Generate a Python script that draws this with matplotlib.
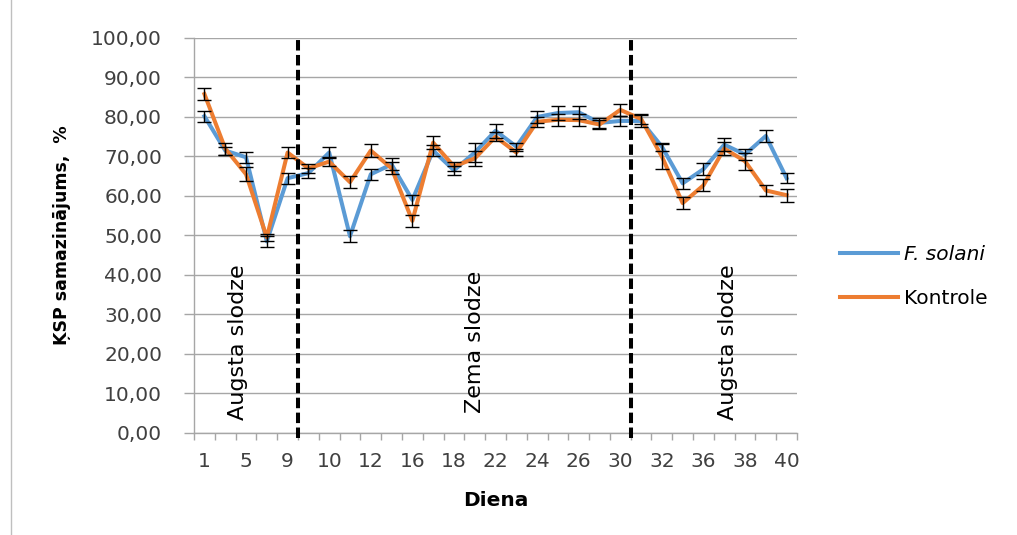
import numpy as np
import matplotlib
matplotlib.use("Agg")
import matplotlib.pyplot as plt
from matplotlib.lines import Line2D

plt.rcParams["font.family"] = "DejaVu Sans"

# data
days = ["1", "3", "5", "7", "9", "9", "10", "11", "12", "14", "16", "17", "18", "20", "22",
        "23", "24", "25", "26", "28", "30", "31", "32", "34", "36", "37", "38", "39", "40"]
solani = [80.2, 71.5, 69.8, 48.5, 64.5, 65.8, 71.0, 49.8, 65.5, 68.0, 59.0, 71.5, 66.5, 71.0, 76.5,
          72.5, 80.0, 81.0, 81.2, 78.5, 79.0, 79.0, 72.5, 63.2, 66.8, 73.0, 70.5, 75.2, 64.5]
solani_err = [1.4, 1.0, 1.4, 1.3, 1.4, 1.2, 1.5, 1.5, 1.4, 1.5, 1.2, 1.4, 1.2, 2.5, 1.8,
              1.0, 1.5, 1.7, 1.6, 1.2, 1.2, 1.5, 1.0, 1.4, 1.6, 1.6, 1.3, 1.5, 1.3]
kontrole = [85.8, 72.0, 65.5, 49.5, 71.0, 67.0, 68.7, 63.5, 71.5, 67.0, 53.7, 73.5, 67.5, 69.5, 75.0,
            71.0, 78.8, 79.3, 79.2, 78.1, 81.8, 79.5, 70.0, 58.2, 62.7, 72.0, 68.8, 61.4, 60.2]
kontrole_err = [1.6, 1.5, 1.8, 1.0, 1.5, 1.2, 1.2, 1.6, 1.6, 1.5, 1.6, 1.6, 1.2, 1.8, 1.2,
                0.8, 1.3, 1.5, 1.5, 1.2, 1.5, 1.3, 3.2, 1.6, 1.5, 1.6, 2.2, 1.5, 1.6]
phase_breaks = [4.5, 20.5]
phase_labels = [("Augsta slodze", 1.6), ("Zema slodze", 13.0), ("Augsta slodze", 25.2)]

blue = "#5B9BD5"
orange = "#ED7D31"
grid = "#A6A6A6"

fig = plt.figure(figsize=(10.17, 5.35), dpi=100)
ax = fig.add_axes([0.1908, 0.1907, 0.5929, 0.7383])

x = np.arange(len(days))
ax.plot(x, solani, color=blue, lw=2.9, solid_joinstyle="round", zorder=3)
ax.plot(x, kontrole, color=orange, lw=2.9, solid_joinstyle="round", zorder=3)
ax.errorbar(x, solani, yerr=solani_err, fmt="none", ecolor="black", elinewidth=1,
            capsize=5, capthick=1, zorder=4)
ax.errorbar(x, kontrole, yerr=kontrole_err, fmt="none", ecolor="black", elinewidth=1,
            capsize=5, capthick=1, zorder=4)

for b in phase_breaks:
    ax.axvline(b, ymin=-0.012, ymax=1, color="black", lw=2.9, dashes=(2.6, 1.1),
               clip_on=False, zorder=5)

for txt, xp in phase_labels:
    ax.text(xp, 23, txt, rotation=90, ha="center", va="center", fontsize=16, color="black")

ax.set_xlim(-0.5, len(days) - 0.5)
ax.set_ylim(0, 100)
ax.set_yticks(np.arange(0, 101, 10))
ax.set_yticklabels(["%d,00" % v for v in range(0, 101, 10)])
ax.yaxis.grid(True, color=grid, lw=1)
ax.set_axisbelow(True)

ax.set_xticks(x[::2])
ax.set_xticklabels(days[::2])
ax.set_xticks(np.arange(-0.5, len(days)), minor=True)
ax.tick_params(axis="x", which="major", length=0, pad=14, labelsize=14.5)
ax.tick_params(axis="x", which="minor", length=5, width=1, direction="out")
ax.tick_params(axis="y", length=7, width=1, pad=16, labelsize=14.5)
ax.tick_params(axis="both", which="both", color=grid, labelcolor="#404040")

for s in ["top", "right"]:
    ax.spines[s].set_visible(False)
for s in ["left", "bottom"]:
    ax.spines[s].set_color(grid)
    ax.spines[s].set_linewidth(1)

ax.set_ylabel("ĶSP samazinājums,  %", fontsize=12.5, fontweight="bold")
ax.yaxis.set_label_coords(-0.204, 0.5)
ax.set_xlabel("Diena", fontsize=14.5, fontweight="bold")
ax.xaxis.set_label_coords(0.5, -0.147)

handles = [Line2D([], [], color=blue, lw=2.9), Line2D([], [], color=orange, lw=2.9)]
leg = fig.legend(handles, ["F. solani", "Kontrole"], loc="center left",
                 bbox_to_anchor=(0.808, 0.483), frameon=False, fontsize=14.5,
                 handlelength=2.9, handletextpad=0.3, labelspacing=1.25)
leg.get_texts()[0].set_fontstyle("italic")

# chart area border remnant at the left
fig.add_artist(Line2D([0.011, 0.011], [0, 1], transform=fig.transFigure, color="#BFBFBF", lw=1))

fig.savefig("out.png", dpi=100)
